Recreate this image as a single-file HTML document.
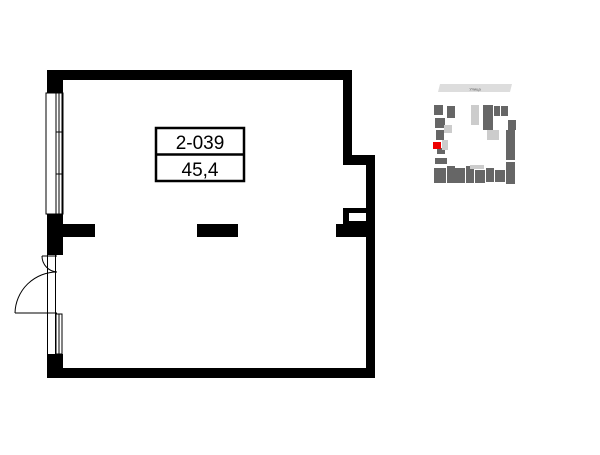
<!DOCTYPE html>
<html><head><meta charset="utf-8"><style>body{margin:0;background:#fff}</style></head><body>
<svg width="600" height="450" viewBox="0 0 600 450" xmlns="http://www.w3.org/2000/svg">
<g fill="#000">
<rect x="47" y="70" width="305" height="10"/>
<rect x="343" y="70" width="9" height="90"/>
<rect x="343" y="155" width="32" height="10"/>
<rect x="366" y="155" width="9" height="223"/>
<rect x="47" y="368" width="328" height="10"/>
<rect x="47" y="70" width="16" height="23"/>
<rect x="47" y="214" width="16" height="41"/>
<rect x="47" y="354" width="16" height="24"/>
<rect x="63" y="224" width="32" height="13"/>
<rect x="197" y="224" width="41" height="13"/>
<rect x="336" y="224" width="31" height="13"/>
<rect x="343" y="208" width="24" height="16"/>
</g>
<rect x="349" y="213" width="17" height="8" fill="#fff"/>
<g fill="none" stroke="#000" stroke-width="1">
<rect x="46" y="93" width="17" height="121" fill="#fff"/>
<line x1="56" y1="93" x2="56" y2="214"/>
<line x1="59" y1="93" x2="59" y2="214"/>
<line x1="62" y1="93" x2="62" y2="214"/>
<line x1="56" y1="132" x2="62" y2="132"/>
<line x1="56" y1="174" x2="62" y2="174"/>
<line x1="47.5" y1="255" x2="47.5" y2="354"/>
<line x1="55.5" y1="255" x2="55.5" y2="354"/>
<rect x="56" y="314" width="6" height="40" fill="#fff"/>
<line x1="59" y1="314" x2="59" y2="354"/>
<path d="M15 313 L57 313"/>
<path d="M15 313 A42 42 0 0 1 57 272"/>
<path d="M42 256 A16 16 0 0 0 57 272"/>
<line x1="42" y1="256" x2="57" y2="256"/>
</g>
<rect x="156" y="128" width="88" height="53" fill="#fff" stroke="#000" stroke-width="2.5"/>
<line x1="156" y1="154.5" x2="244" y2="154.5" stroke="#000" stroke-width="2.5"/>
<text x="200" y="149" font-family="Liberation Sans, sans-serif" font-size="19" text-anchor="middle">2-039</text>
<text x="200" y="176" font-family="Liberation Sans, sans-serif" font-size="19" text-anchor="middle">45,4</text>
<polygon points="440,84 512,84 510,92 438,92" fill="#ddd"/>
<text x="475" y="90.5" font-family="Liberation Sans, sans-serif" font-size="4" text-anchor="middle" fill="#555">Улица</text>
<g fill="#666">
<rect x="434" y="105" width="9" height="10"/><rect x="447" y="106" width="8" height="12"/>
<rect x="435" y="118" width="10" height="10"/>
<rect x="436" y="130" width="8" height="10"/>
<rect x="437" y="148" width="8" height="6"/>
<rect x="435" y="158" width="12" height="6"/>
<rect x="434" y="168" width="12" height="15"/><rect x="447" y="166" width="8" height="17"/>
<rect x="455" y="168" width="10" height="15"/><rect x="466" y="166" width="8" height="17"/>
<rect x="475" y="170" width="10" height="13"/><rect x="486" y="168" width="8" height="14"/>
<rect x="495" y="170" width="10" height="12"/><rect x="506" y="162" width="9" height="22"/>
<rect x="483" y="105" width="10" height="25"/><rect x="494" y="106" width="6" height="10"/><rect x="501" y="106" width="7" height="10"/>
<rect x="508" y="120" width="8" height="10"/><rect x="506" y="130" width="9" height="30"/>
<rect x="436" y="142" width="4" height="6"/>
</g>
<g fill="#ccc">
<rect x="471" y="105" width="8" height="20"/><rect x="444" y="125" width="8" height="8"/>
<rect x="442" y="140" width="6" height="10"/><rect x="487" y="130" width="12" height="10"/>
<rect x="470" y="165" width="14" height="4"/>
</g>
<rect x="433" y="142" width="8" height="7" fill="#e00"/>
</svg>
</body></html>
